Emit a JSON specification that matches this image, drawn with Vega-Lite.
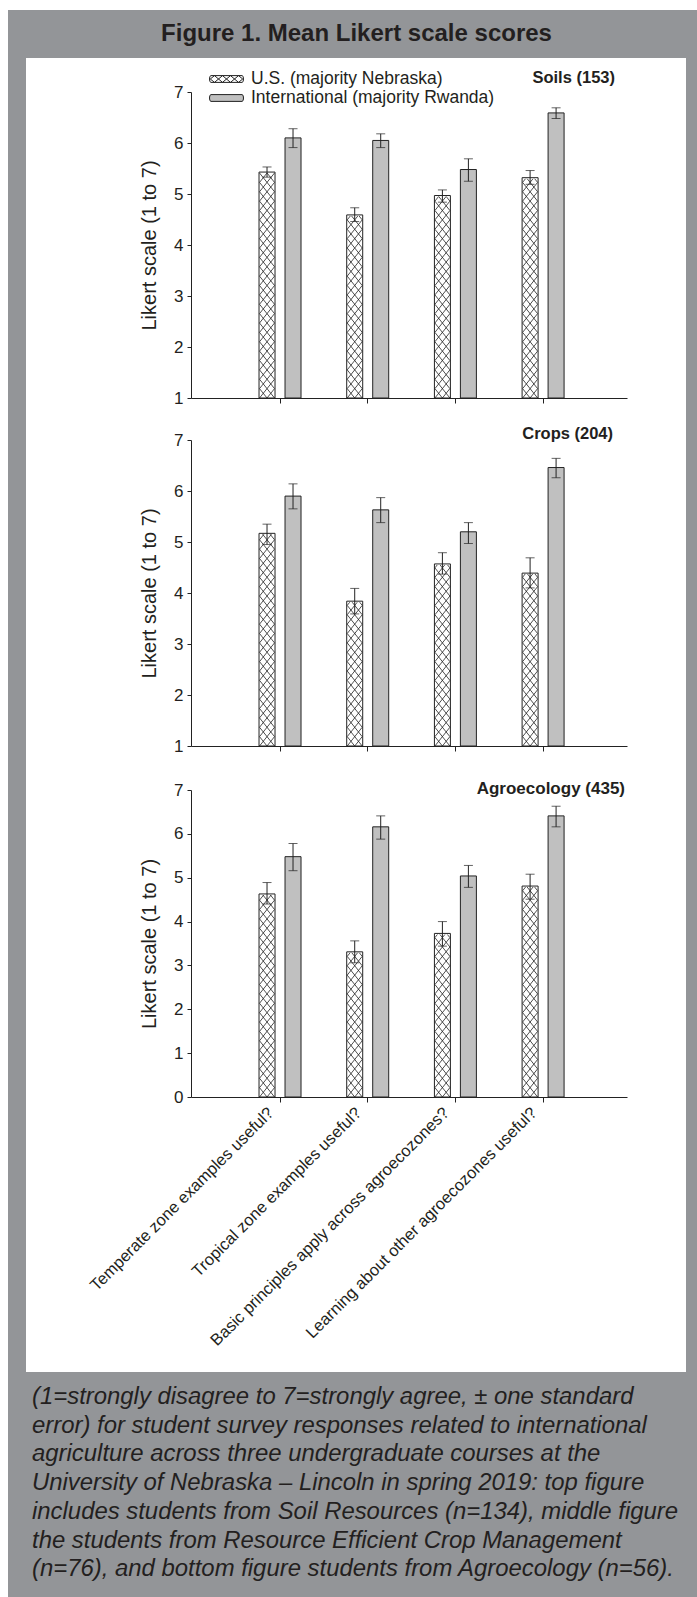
{
  "$schema": "https://vega.github.io/schema/vega-lite/v6.json",
  "background": "white",
  "padding": {"left": 8, "top": 10, "right": 0, "bottom": 0},
  "columns": 5,
  "spacing": 0,
  "bounds": "flush",
  "align": "each",
  "datasets": {
    "soils": [
      {"q": "Temperate zone examples useful?", "g": "US", "mean": 5.43, "lo": 5.33, "hi": 5.53},
      {"q": "Temperate zone examples useful?", "g": "Intl", "mean": 6.10, "lo": 5.91, "hi": 6.28},
      {"q": "Tropical zone examples useful?", "g": "US", "mean": 4.59, "lo": 4.46, "hi": 4.73},
      {"q": "Tropical zone examples useful?", "g": "Intl", "mean": 6.05, "lo": 5.91, "hi": 6.18},
      {"q": "Basic principles apply across agroecozones?", "g": "US", "mean": 4.97, "lo": 4.84, "hi": 5.08},
      {"q": "Basic principles apply across agroecozones?", "g": "Intl", "mean": 5.48, "lo": 5.25, "hi": 5.69},
      {"q": "Learning about other agroecozones useful?", "g": "US", "mean": 5.32, "lo": 5.19, "hi": 5.46},
      {"q": "Learning about other agroecozones useful?", "g": "Intl", "mean": 6.59, "lo": 6.48, "hi": 6.69}
    ],
    "crops": [
      {"q": "Temperate zone examples useful?", "g": "US", "mean": 5.17, "lo": 4.95, "hi": 5.35},
      {"q": "Temperate zone examples useful?", "g": "Intl", "mean": 5.90, "lo": 5.65, "hi": 6.14},
      {"q": "Tropical zone examples useful?", "g": "US", "mean": 3.84, "lo": 3.59, "hi": 4.09},
      {"q": "Tropical zone examples useful?", "g": "Intl", "mean": 5.63, "lo": 5.38, "hi": 5.87},
      {"q": "Basic principles apply across agroecozones?", "g": "US", "mean": 4.57, "lo": 4.37, "hi": 4.79},
      {"q": "Basic principles apply across agroecozones?", "g": "Intl", "mean": 5.20, "lo": 4.97, "hi": 5.38},
      {"q": "Learning about other agroecozones useful?", "g": "US", "mean": 4.39, "lo": 4.10, "hi": 4.69},
      {"q": "Learning about other agroecozones useful?", "g": "Intl", "mean": 6.46, "lo": 6.26, "hi": 6.64}
    ],
    "agro": [
      {"q": "Temperate zone examples useful?", "g": "US", "mean": 4.63, "lo": 4.40, "hi": 4.89},
      {"q": "Temperate zone examples useful?", "g": "Intl", "mean": 5.48, "lo": 5.16, "hi": 5.78},
      {"q": "Tropical zone examples useful?", "g": "US", "mean": 3.31, "lo": 3.06, "hi": 3.56},
      {"q": "Tropical zone examples useful?", "g": "Intl", "mean": 6.16, "lo": 5.88, "hi": 6.41},
      {"q": "Basic principles apply across agroecozones?", "g": "US", "mean": 3.73, "lo": 3.44, "hi": 4.00},
      {"q": "Basic principles apply across agroecozones?", "g": "Intl", "mean": 5.04, "lo": 4.78, "hi": 5.28},
      {"q": "Learning about other agroecozones useful?", "g": "US", "mean": 4.81, "lo": 4.51, "hi": 5.08},
      {"q": "Learning about other agroecozones useful?", "g": "Intl", "mean": 6.41, "lo": 6.16, "hi": 6.63}
    ]
  },
  "concat": [
    {"width": 18, "height": 48, "view": {"fill": "#939598", "stroke": null}, "data": {"values": [{}]}, "mark": {"type": "point", "opacity": 0}},
    {"width": 165, "height": 48, "view": {"fill": "#939598", "stroke": null}, "data": {"values": [{}]}, "mark": {"type": "point", "opacity": 0}},
    {"width": 436, "height": 48, "view": {"fill": "#939598", "stroke": null}, "data": {"values": [{}]}, "mark": {"type": "text", "text": "Figure 1. Mean Likert scale scores", "font": "Liberation Sans", "fontSize": 24, "fontWeight": "bold", "color": "#231f20", "dx": -52.5, "baseline": "middle", "align": "center"}},
    {"width": 59, "height": 48, "view": {"fill": "#939598", "stroke": null}, "data": {"values": [{}]}, "mark": {"type": "point", "opacity": 0}},
    {"width": 11, "height": 48, "view": {"fill": "#939598", "stroke": null}, "data": {"values": [{}]}, "mark": {"type": "point", "opacity": 0}},

    {"width": 18, "height": 34, "view": {"fill": "#939598", "stroke": null}, "data": {"values": [{}]}, "mark": {"type": "point", "opacity": 0}},
    {"width": 165, "height": 34, "data": {"values": [{}]}, "mark": {"type": "point", "opacity": 0}},
    {"width": 436, "height": 34, "data": {"values": [{}]}, "mark": {"type": "point", "opacity": 0}},
    {"width": 59, "height": 34, "data": {"values": [{}]}, "mark": {"type": "point", "opacity": 0}},
    {"width": 11, "height": 34, "view": {"fill": "#939598", "stroke": null}, "data": {"values": [{}]}, "mark": {"type": "point", "opacity": 0}},

    {"width": 18, "height": 306, "view": {"fill": "#939598", "stroke": null}, "data": {"values": [{}]}, "mark": {"type": "point", "opacity": 0}},
    {"width": 165, "height": 306, "data": {"values": [{}]}, "mark": {"type": "point", "opacity": 0}},
    {
      "width": 436, "height": 306,
      "data": {"name": "soils"},
      "title": {"text": "Soils (153)", "anchor": "end", "frame": "group", "dx": -12, "offset": -3.5, "fontSize": 16.5, "fontWeight": "bold", "font": "Liberation Sans", "color": "#231f20"},
      "encoding": {
        "x": {"field": "q", "type": "nominal", "sort": ["Temperate zone examples useful?", "Tropical zone examples useful?", "Basic principles apply across agroecozones?", "Learning about other agroecozones useful?"], "scale": {"paddingInner": 0, "paddingOuter": 0.486, "align": 0.53}, "axis": {"title": null, "labels": false, "ticks": true, "tickSize": 5}},
        "xOffset": {"field": "g", "type": "nominal", "sort": ["US", "Intl"], "scale": {"paddingInner": 0.3846, "paddingOuter": 0.879}},
        "y": {"field": "mean", "type": "quantitative", "title": "Likert scale (1 to 7)", "scale": {"domain": [1, 7], "nice": false, "zero": false}, "axis": {"values": [1, 2, 3, 4, 5, 6, 7], "format": "d", "tickSize": 4, "labelPadding": 4, "labelFontSize": 17, "titleFontSize": 20, "titlePadding": 14}}
      },
      "layer": [
        {"transform": [{"filter": "datum.g == 'US'"}], "mark": {"type": "point", "shape": "M0,0L1,-1.25M-1,-1.25L0,0M-1,0L1,-2.5M-1,-1.25L1,-3.75M-1,-2.5L1,-5M-1,-3.75L1,-6.25M-1,-5L1,-7.5M-1,-6.25L1,-8.75M-1,-7.5L1,-10M-1,-8.75L1,-11.25M-1,-10L1,-12.5M-1,-11.25L1,-13.75M-1,-12.5L1,-15M-1,-13.75L1,-16.25M-1,-15L1,-17.5M-1,-16.25L1,-18.75M-1,-17.5L1,-20M-1,-18.75L1,-21.25M-1,-20L1,-22.5M-1,-21.25L1,-23.75M-1,-22.5L1,-25M-1,-23.75L1,-26.25M-1,-25L1,-27.5M-1,-26.25L1,-28.75M-1,-27.5L1,-30M-1,-28.75L1,-31.25M-1,-30L1,-32.5M-1,-2.5L1,0M-1,-3.75L1,-1.25M-1,-5L1,-2.5M-1,-6.25L1,-3.75M-1,-7.5L1,-5M-1,-8.75L1,-6.25M-1,-10L1,-7.5M-1,-11.25L1,-8.75M-1,-12.5L1,-10M-1,-13.75L1,-11.25M-1,-15L1,-12.5M-1,-16.25L1,-13.75M-1,-17.5L1,-15M-1,-18.75L1,-16.25M-1,-20L1,-17.5M-1,-21.25L1,-18.75M-1,-22.5L1,-20M-1,-23.75L1,-21.25M-1,-25L1,-22.5M-1,-26.25L1,-23.75M-1,-27.5L1,-25M-1,-28.75L1,-26.25M-1,-30L1,-27.5M-1,-31.25L1,-28.75M-1,-32.5L1,-30", "size": 225, "filled": false, "stroke": "#222", "strokeWidth": 0.8, "opacity": 1}, "encoding": {"y": {"datum": 1, "type": "quantitative"}}},
        {"transform": [{"filter": "datum.g == 'US'"}], "mark": {"type": "bar", "fill": "white", "stroke": "white", "strokeWidth": 2}, "encoding": {"y2": {"datum": 7}}},
        {"mark": {"type": "bar", "stroke": "#222", "strokeWidth": 1}, "encoding": {"y2": {"datum": 1}, "fill": {"field": "g", "type": "nominal", "scale": {"domain": ["US", "Intl"], "range": ["transparent", "#c0c0c0"]}, "legend": {"title": null, "orient": "none", "legendX": 208, "legendY": 58.5, "padding": 0, "labelFont": "Liberation Sans", "labelFontSize": 17.5, "labelColor": "#231f20", "labelLimit": 400, "labelOffset": 14, "symbolSize": 400, "symbolStrokeColor": "#222", "symbolStrokeWidth": 1, "rowPadding": -5.5, "labelExpr": "datum.value == 'US' ? 'U.S. (majority Nebraska)' : 'International (majority Rwanda)'"}}}},
        {"transform": [{"filter": "false"}], "mark": {"type": "point", "filled": true, "stroke": "#222", "strokeWidth": 1, "opacity": 1}, "encoding": {"y": {"datum": 1, "type": "quantitative"},
          "fill": {"field": "g", "type": "nominal", "scale": {"domain": ["US", "Intl"], "range": ["transparent", "#c0c0c0"]}, "legend": {"title": null, "orient": "none", "legendX": 208, "legendY": 58.5, "padding": 0, "labelFont": "Liberation Sans", "labelFontSize": 17.5, "labelColor": "#231f20", "labelLimit": 400, "labelOffset": 14, "symbolSize": 400, "symbolStrokeColor": "#222", "symbolStrokeWidth": 1, "rowPadding": -5.5, "labelExpr": "datum.value == 'US' ? 'U.S. (majority Nebraska)' : 'International (majority Rwanda)'"}},
          "shape": {"field": "g", "type": "nominal", "scale": {"domain": ["US", "Intl"], "range": ["M-1.55,-0.34L1.55,-0.34Q1.7,-0.34 1.7,0Q1.7,0.34 1.55,0.34L-1.55,0.34Q-1.7,0.34 -1.7,0Q-1.7,-0.34 -1.55,-0.34ZM-1.2,-0.34L-0.4,0.34M-1.2,0.34L-0.4,-0.34M-0.4,-0.34L0.4,0.34M-0.4,0.34L0.4,-0.34M0.4,-0.34L1.2,0.34M0.4,0.34L1.2,-0.34M-1.62,0L-1.2,-0.34M-1.62,0L-1.2,0.34M1.62,0L1.2,-0.34M1.62,0L1.2,0.34", "M-1.55,-0.34L1.55,-0.34Q1.7,-0.34 1.7,0Q1.7,0.34 1.55,0.34L-1.55,0.34Q-1.7,0.34 -1.7,0Q-1.7,-0.34 -1.55,-0.34Z"]}, "legend": {"title": null, "orient": "none", "legendX": 208, "legendY": 58.5, "padding": 0, "labelFont": "Liberation Sans", "labelFontSize": 17.5, "labelColor": "#231f20", "labelLimit": 400, "labelOffset": 14, "symbolSize": 400, "symbolStrokeColor": "#222", "symbolStrokeWidth": 1, "rowPadding": -5.5, "labelExpr": "datum.value == 'US' ? 'U.S. (majority Nebraska)' : 'International (majority Rwanda)'"}}}},
        {"mark": {"type": "rule", "color": "#222", "strokeWidth": 1}, "encoding": {"y": {"field": "lo", "type": "quantitative", "title": "Likert scale (1 to 7)"}, "y2": {"field": "hi"}}},
        {"mark": {"type": "tick", "color": "#222", "thickness": 1, "size": 9}, "encoding": {"y": {"field": "lo", "type": "quantitative", "title": "Likert scale (1 to 7)"}}},
        {"mark": {"type": "tick", "color": "#222", "thickness": 1, "size": 9}, "encoding": {"y": {"field": "hi", "type": "quantitative", "title": "Likert scale (1 to 7)"}}}
      ]
    },
    {"width": 59, "height": 306, "data": {"values": [{}]}, "mark": {"type": "point", "opacity": 0}},
    {"width": 11, "height": 306, "view": {"fill": "#939598", "stroke": null}, "data": {"values": [{}]}, "mark": {"type": "point", "opacity": 0}},

    {"width": 18, "height": 42, "view": {"fill": "#939598", "stroke": null}, "data": {"values": [{}]}, "mark": {"type": "point", "opacity": 0}},
    {"width": 165, "height": 42, "data": {"values": [{}]}, "mark": {"type": "point", "opacity": 0}},
    {"width": 436, "height": 42, "data": {"values": [{}]}, "mark": {"type": "point", "opacity": 0}},
    {"width": 59, "height": 42, "data": {"values": [{}]}, "mark": {"type": "point", "opacity": 0}},
    {"width": 11, "height": 42, "view": {"fill": "#939598", "stroke": null}, "data": {"values": [{}]}, "mark": {"type": "point", "opacity": 0}},

    {"width": 18, "height": 306, "view": {"fill": "#939598", "stroke": null}, "data": {"values": [{}]}, "mark": {"type": "point", "opacity": 0}},
    {"width": 165, "height": 306, "data": {"values": [{}]}, "mark": {"type": "point", "opacity": 0}},
    {
      "width": 436, "height": 306,
      "data": {"name": "crops"},
      "title": {"text": "Crops (204)", "anchor": "end", "frame": "group", "dx": -14, "offset": -11.5, "fontSize": 16.5, "fontWeight": "bold", "font": "Liberation Sans", "color": "#231f20"},
      "encoding": {
        "x": {"field": "q", "type": "nominal", "sort": ["Temperate zone examples useful?", "Tropical zone examples useful?", "Basic principles apply across agroecozones?", "Learning about other agroecozones useful?"], "scale": {"paddingInner": 0, "paddingOuter": 0.486, "align": 0.53}, "axis": {"title": null, "labels": false, "ticks": true, "tickSize": 5}},
        "xOffset": {"field": "g", "type": "nominal", "sort": ["US", "Intl"], "scale": {"paddingInner": 0.3846, "paddingOuter": 0.879}},
        "y": {"field": "mean", "type": "quantitative", "title": "Likert scale (1 to 7)", "scale": {"domain": [1, 7], "nice": false, "zero": false}, "axis": {"values": [1, 2, 3, 4, 5, 6, 7], "format": "d", "tickSize": 4, "labelPadding": 4, "labelFontSize": 17, "titleFontSize": 20, "titlePadding": 14}}
      },
      "layer": [
        {"transform": [{"filter": "datum.g == 'US'"}], "mark": {"type": "point", "shape": "M0,0L1,-1.25M-1,-1.25L0,0M-1,0L1,-2.5M-1,-1.25L1,-3.75M-1,-2.5L1,-5M-1,-3.75L1,-6.25M-1,-5L1,-7.5M-1,-6.25L1,-8.75M-1,-7.5L1,-10M-1,-8.75L1,-11.25M-1,-10L1,-12.5M-1,-11.25L1,-13.75M-1,-12.5L1,-15M-1,-13.75L1,-16.25M-1,-15L1,-17.5M-1,-16.25L1,-18.75M-1,-17.5L1,-20M-1,-18.75L1,-21.25M-1,-20L1,-22.5M-1,-21.25L1,-23.75M-1,-22.5L1,-25M-1,-23.75L1,-26.25M-1,-25L1,-27.5M-1,-26.25L1,-28.75M-1,-27.5L1,-30M-1,-28.75L1,-31.25M-1,-30L1,-32.5M-1,-2.5L1,0M-1,-3.75L1,-1.25M-1,-5L1,-2.5M-1,-6.25L1,-3.75M-1,-7.5L1,-5M-1,-8.75L1,-6.25M-1,-10L1,-7.5M-1,-11.25L1,-8.75M-1,-12.5L1,-10M-1,-13.75L1,-11.25M-1,-15L1,-12.5M-1,-16.25L1,-13.75M-1,-17.5L1,-15M-1,-18.75L1,-16.25M-1,-20L1,-17.5M-1,-21.25L1,-18.75M-1,-22.5L1,-20M-1,-23.75L1,-21.25M-1,-25L1,-22.5M-1,-26.25L1,-23.75M-1,-27.5L1,-25M-1,-28.75L1,-26.25M-1,-30L1,-27.5M-1,-31.25L1,-28.75M-1,-32.5L1,-30", "size": 225, "filled": false, "stroke": "#222", "strokeWidth": 0.8, "opacity": 1}, "encoding": {"y": {"datum": 1, "type": "quantitative"}}},
        {"transform": [{"filter": "datum.g == 'US'"}], "mark": {"type": "bar", "fill": "white", "stroke": "white", "strokeWidth": 2}, "encoding": {"y2": {"datum": 7}}},
        {"mark": {"type": "bar", "stroke": "#222", "strokeWidth": 1}, "encoding": {"y2": {"datum": 1}, "fill": {"field": "g", "type": "nominal", "scale": {"domain": ["US", "Intl"], "range": ["transparent", "#c0c0c0"]}, "legend": null}}},
        {"mark": {"type": "rule", "color": "#222", "strokeWidth": 1}, "encoding": {"y": {"field": "lo", "type": "quantitative", "title": "Likert scale (1 to 7)"}, "y2": {"field": "hi"}}},
        {"mark": {"type": "tick", "color": "#222", "thickness": 1, "size": 9}, "encoding": {"y": {"field": "lo", "type": "quantitative", "title": "Likert scale (1 to 7)"}}},
        {"mark": {"type": "tick", "color": "#222", "thickness": 1, "size": 9}, "encoding": {"y": {"field": "hi", "type": "quantitative", "title": "Likert scale (1 to 7)"}}}
      ]
    },
    {"width": 59, "height": 306, "data": {"values": [{}]}, "mark": {"type": "point", "opacity": 0}},
    {"width": 11, "height": 306, "view": {"fill": "#939598", "stroke": null}, "data": {"values": [{}]}, "mark": {"type": "point", "opacity": 0}},

    {"width": 18, "height": 44, "view": {"fill": "#939598", "stroke": null}, "data": {"values": [{}]}, "mark": {"type": "point", "opacity": 0}},
    {"width": 165, "height": 44, "data": {"values": [{}]}, "mark": {"type": "point", "opacity": 0}},
    {"width": 436, "height": 44, "data": {"values": [{}]}, "mark": {"type": "point", "opacity": 0}},
    {"width": 59, "height": 44, "data": {"values": [{}]}, "mark": {"type": "point", "opacity": 0}},
    {"width": 11, "height": 44, "view": {"fill": "#939598", "stroke": null}, "data": {"values": [{}]}, "mark": {"type": "point", "opacity": 0}},

    {"width": 18, "height": 307, "view": {"fill": "#939598", "stroke": null}, "data": {"values": [{}]}, "mark": {"type": "point", "opacity": 0}},
    {"width": 165, "height": 307, "data": {"values": [{}]}, "mark": {"type": "point", "opacity": 0}},
    {
      "width": 436, "height": 307,
      "data": {"name": "agro"},
      "title": {"text": "Agroecology (435)", "anchor": "end", "frame": "group", "dx": -2, "offset": -17, "fontSize": 17, "fontWeight": "bold", "font": "Liberation Sans", "color": "#231f20"},
      "encoding": {
        "x": {"field": "q", "type": "nominal", "sort": ["Temperate zone examples useful?", "Tropical zone examples useful?", "Basic principles apply across agroecozones?", "Learning about other agroecozones useful?"], "scale": {"paddingInner": 0, "paddingOuter": 0.486, "align": 0.53}, "axis": {"title": null, "labels": true, "ticks": true, "tickSize": 5, "labelAngle": -45, "labelAlign": "right", "labelBaseline": "middle", "labelFontSize": 16.5, "labelPadding": 8, "labelOffset": -9, "labelLimit": 400}},
        "xOffset": {"field": "g", "type": "nominal", "sort": ["US", "Intl"], "scale": {"paddingInner": 0.3846, "paddingOuter": 0.879}},
        "y": {"field": "mean", "type": "quantitative", "title": "Likert scale (1 to 7)", "scale": {"domain": [0, 7], "nice": false, "zero": false}, "axis": {"values": [0, 1, 2, 3, 4, 5, 6, 7], "format": "d", "tickSize": 4, "labelPadding": 4, "labelFontSize": 17, "titleFontSize": 20, "titlePadding": 14}}
      },
      "layer": [
        {"transform": [{"filter": "datum.g == 'US'"}], "mark": {"type": "point", "shape": "M0,0L1,-1.25M-1,-1.25L0,0M-1,0L1,-2.5M-1,-1.25L1,-3.75M-1,-2.5L1,-5M-1,-3.75L1,-6.25M-1,-5L1,-7.5M-1,-6.25L1,-8.75M-1,-7.5L1,-10M-1,-8.75L1,-11.25M-1,-10L1,-12.5M-1,-11.25L1,-13.75M-1,-12.5L1,-15M-1,-13.75L1,-16.25M-1,-15L1,-17.5M-1,-16.25L1,-18.75M-1,-17.5L1,-20M-1,-18.75L1,-21.25M-1,-20L1,-22.5M-1,-21.25L1,-23.75M-1,-22.5L1,-25M-1,-23.75L1,-26.25M-1,-25L1,-27.5M-1,-26.25L1,-28.75M-1,-27.5L1,-30M-1,-28.75L1,-31.25M-1,-30L1,-32.5M-1,-2.5L1,0M-1,-3.75L1,-1.25M-1,-5L1,-2.5M-1,-6.25L1,-3.75M-1,-7.5L1,-5M-1,-8.75L1,-6.25M-1,-10L1,-7.5M-1,-11.25L1,-8.75M-1,-12.5L1,-10M-1,-13.75L1,-11.25M-1,-15L1,-12.5M-1,-16.25L1,-13.75M-1,-17.5L1,-15M-1,-18.75L1,-16.25M-1,-20L1,-17.5M-1,-21.25L1,-18.75M-1,-22.5L1,-20M-1,-23.75L1,-21.25M-1,-25L1,-22.5M-1,-26.25L1,-23.75M-1,-27.5L1,-25M-1,-28.75L1,-26.25M-1,-30L1,-27.5M-1,-31.25L1,-28.75M-1,-32.5L1,-30", "size": 225, "filled": false, "stroke": "#222", "strokeWidth": 0.8, "opacity": 1}, "encoding": {"y": {"datum": 0, "type": "quantitative"}}},
        {"transform": [{"filter": "datum.g == 'US'"}], "mark": {"type": "bar", "fill": "white", "stroke": "white", "strokeWidth": 2}, "encoding": {"y2": {"datum": 7}}},
        {"mark": {"type": "bar", "stroke": "#222", "strokeWidth": 1}, "encoding": {"y2": {"datum": 0}, "fill": {"field": "g", "type": "nominal", "scale": {"domain": ["US", "Intl"], "range": ["transparent", "#c0c0c0"]}, "legend": null}}},
        {"mark": {"type": "rule", "color": "#222", "strokeWidth": 1}, "encoding": {"y": {"field": "lo", "type": "quantitative", "title": "Likert scale (1 to 7)"}, "y2": {"field": "hi"}}},
        {"mark": {"type": "tick", "color": "#222", "thickness": 1, "size": 9}, "encoding": {"y": {"field": "lo", "type": "quantitative", "title": "Likert scale (1 to 7)"}}},
        {"mark": {"type": "tick", "color": "#222", "thickness": 1, "size": 9}, "encoding": {"y": {"field": "hi", "type": "quantitative", "title": "Likert scale (1 to 7)"}}}
      ]
    },
    {"width": 59, "height": 307, "data": {"values": [{}]}, "mark": {"type": "point", "opacity": 0}},
    {"width": 11, "height": 307, "view": {"fill": "#939598", "stroke": null}, "data": {"values": [{}]}, "mark": {"type": "point", "opacity": 0}},

    {"width": 18, "height": 275, "view": {"fill": "#939598", "stroke": null}, "data": {"values": [{}]}, "mark": {"type": "point", "opacity": 0}},
    {"width": 165, "height": 275, "data": {"values": [{}]}, "mark": {"type": "point", "opacity": 0}},
    {"width": 436, "height": 275, "data": {"values": [{}]}, "mark": {"type": "point", "opacity": 0}},
    {"width": 59, "height": 275, "data": {"values": [{}]}, "mark": {"type": "point", "opacity": 0}},
    {"width": 11, "height": 275, "view": {"fill": "#939598", "stroke": null}, "data": {"values": [{}]}, "mark": {"type": "point", "opacity": 0}},

    {"width": 18, "height": 225, "view": {"fill": "#939598", "stroke": null}, "data": {"values": [{}]}, "mark": {"type": "point", "opacity": 0}},
    {"width": 165, "height": 225, "view": {"fill": "#939598", "stroke": null}, "data": {"values": [{}]}, "mark": {"type": "point", "opacity": 0}},
    {"width": 436, "height": 225, "view": {"fill": "#939598", "stroke": null}, "data": {"values": [{}]}, "mark": {"type": "point", "opacity": 0}},
    {"width": 59, "height": 225, "view": {"fill": "#939598", "stroke": null}, "data": {"values": [{}]}, "mark": {"type": "text", "text": ["(1=strongly disagree to 7=strongly agree, ± one standard", "error) for student survey responses related to international", "agriculture across three undergraduate courses at the", "University of Nebraska – Lincoln in spring 2019: top figure", "includes students from Soil Resources (n=134), middle figure", "the students from Resource Efficient Crop Management", "(n=76), and bottom figure students from Agroecology (n=56)."], "align": "left", "baseline": "middle", "dx": -624.5, "dy": -87.5, "font": "Liberation Sans", "fontSize": 23.9, "fontStyle": "italic", "lineHeight": 28.7, "color": "#231f20"}},
    {"width": 11, "height": 225, "view": {"fill": "#939598", "stroke": null}, "data": {"values": [{}]}, "mark": {"type": "point", "opacity": 0}}
  ],
  "config": {
    "view": {"stroke": null},
    "font": "Liberation Sans",
    "axis": {"labelFont": "Liberation Sans", "titleFont": "Liberation Sans", "labelColor": "#231f20", "titleColor": "#231f20", "domainColor": "#222", "tickColor": "#222", "domainWidth": 1, "tickWidth": 1, "grid": false, "titleFontWeight": "normal"}
  }
}
